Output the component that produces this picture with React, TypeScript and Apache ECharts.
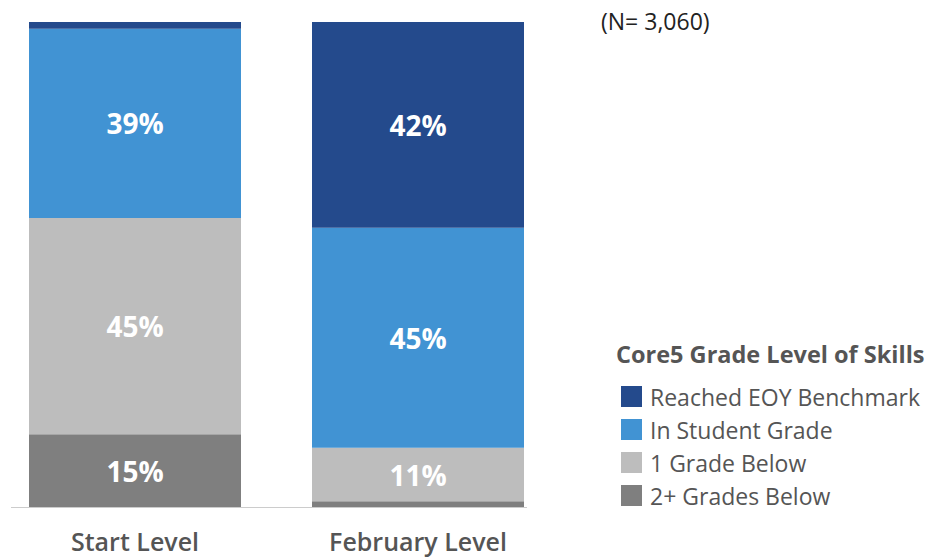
import React, { useEffect, useRef } from "react";
import * as echarts from "echarts";

const categories = ["Start Level", "February Level"];
const seriesNames = ["2+ Grades Below", "1 Grade Below", "In Student Grade", "Reached EOY Benchmark"];
const twoPlusBelow = [15, 1.2];
const oneBelow = [44.6, 11];
const inGrade = [39, 45.4];
const reachedEOY = [1.4, 42.4];
const legendOrder = ["Reached EOY Benchmark", "In Student Grade", "1 Grade Below", "2+ Grades Below"];
const colors = ["#7f7f7f", "#bdbdbd", "#4193d3", "#244a8c"];
const noteText = "(N= 3,060)";
const legendTitle = "Core5 Grade Level of Skills";

const FONT = "'Open Sans', 'Noto Sans', sans-serif";

export default function App() {
  const ref = useRef<HTMLDivElement>(null);
  useEffect(() => {
    if (!ref.current) return;
    const chart = echarts.init(ref.current, null, { renderer: "svg" });
    const data = [twoPlusBelow, oneBelow, inGrade, reachedEOY];
    chart.setOption({
      animation: false,
      backgroundColor: "#ffffff",
      grid: { left: 135, right: 511, top: 22, bottom: 53 },
      xAxis: {
        type: "category",
        data: categories,
        boundaryGap: false,
        axisLine: { show: false },
        axisTick: { show: false },
        axisLabel: {
          margin: 21,
          fontSize: 25,
          lineHeight: 25,
          fontWeight: 600,
          color: "#555555",
          fontFamily: FONT,
        },
      },
      yAxis: { type: "value", min: 0, max: 100, show: false },
      legend: {
        orient: "vertical",
        left: 616,
        top: 380,
        itemWidth: 21,
        itemHeight: 21,
        itemGap: 10,
        icon: "rect",
        data: legendOrder,
        textStyle: { fontSize: 23, color: "#555555", fontFamily: FONT, padding: [0, 0, 0, 3] },
      },
      graphic: [
        {
          type: "line",
          shape: { x1: 11, y1: 507.5, x2: 527, y2: 507.5 },
          style: { stroke: "#cccccc", lineWidth: 1 },
        },
        {
          type: "text",
          left: 601,
          top: 9,
          style: { text: noteText, fontSize: 23, fill: "#222222", fontFamily: FONT },
        },
        {
          type: "text",
          left: 616,
          top: 342,
          style: { text: legendTitle, fontSize: 23.5, fontWeight: "bold", fill: "#555555", fontFamily: FONT },
        },
      ],
      series: seriesNames.map((name, i) => ({
        name,
        type: "bar",
        stack: "total",
        barWidth: 212,
        clip: false,
        itemStyle: { color: colors[i] },
        label: {
          show: true,
          position: "inside",
          color: "#ffffff",
          fontSize: 28,
          fontWeight: "bold",
          fontFamily: FONT,
          formatter: (p: any) => (p.value >= 5 ? Math.round(p.value) + "%" : ""),
        },
        data: data[i],
      })),
    });
    return () => chart.dispose();
  }, []);
  return (
    <div
      ref={ref}
      style={{ position: "fixed", left: 0, top: 0, width: 929, height: 560 }}
    />
  );
}
